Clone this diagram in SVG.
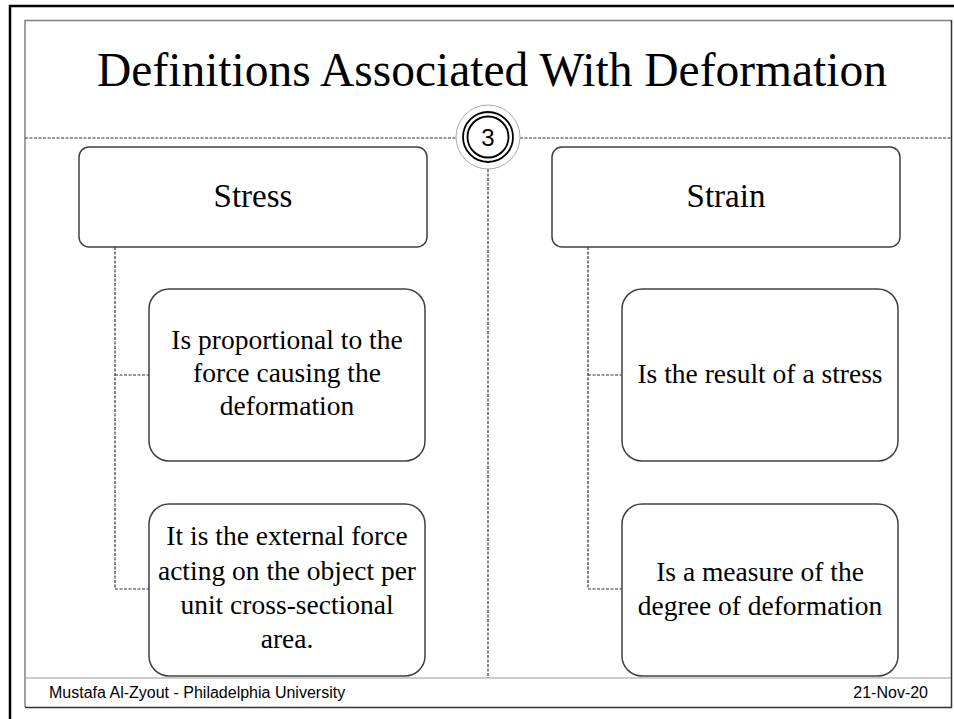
<svg xmlns="http://www.w3.org/2000/svg" width="954" height="719" viewBox="0 0 954 719">
<style>
.box{fill:#fff;stroke:#404040;stroke-width:1.5}
.dash{fill:none;stroke:#333;stroke-width:1.2;stroke-dasharray:3 1.5}
.t{font-family:"Liberation Serif","Times New Roman",serif;fill:#000;text-anchor:middle}
.sub{font-size:27.5px}
.head{font-size:33px}
.foot{font-family:"Liberation Sans",Arial,sans-serif;font-size:16px;fill:#000}
</style>
<rect x="0" y="0" width="954" height="719" fill="#fff"/>
<g id="frame">
<path d="M10 719 V6 H954" fill="none" stroke="#000" stroke-width="2.5"/>
<path d="M25 707 V20.5 H951" fill="none" stroke="#808080" stroke-width="1.5"/>
<path d="M951.5 20 V707.5 H25" fill="none" stroke="#333" stroke-width="1.5"/>
<line x1="25" y1="678" x2="951" y2="678" stroke="#999" stroke-width="1"/>
</g>
<text id="title" class="t" x="492" y="86" font-size="48px" textLength="790" lengthAdjust="spacingAndGlyphs">Definitions Associated With Deformation</text>
<g id="connectors">
<path class="dash" d="M25 138 H456 M520 138 H951"/>
<path class="dash" d="M488 169 V678"/>
<path class="dash" d="M115 247 V589 H149 M115 375 H149"/>
<path class="dash" d="M588 247 V589 H622 M588 375 H622"/>
</g>
<g id="badge">
<circle cx="488" cy="137" r="32" fill="#fff" stroke="#aaa" stroke-width="1"/>
<circle cx="488" cy="137" r="25" fill="#fff" stroke="#000" stroke-width="1.8"/>
<circle cx="488" cy="137" r="20.5" fill="none" stroke="#000" stroke-width="1.8"/>
<text x="488" y="145.5" font-family="'Liberation Sans',Arial,sans-serif" font-size="24px" text-anchor="middle">3</text>
</g>
<g id="stress">
<rect class="box" x="79" y="147" width="348" height="100" rx="10"/>
<text class="t head" x="253" y="207">Stress</text>
</g>
<g id="strain">
<rect class="box" x="552" y="147" width="348" height="100" rx="10"/>
<text class="t head" x="726" y="207">Strain</text>
</g>
<g id="stress-1">
<rect class="box" x="149" y="289" width="276" height="172" rx="20"/>
<text class="t sub" x="287" y="349">Is proportional to the</text>
<text class="t sub" x="287" y="382">force causing the</text>
<text class="t sub" x="287" y="415">deformation</text>
</g>
<g id="stress-2">
<rect class="box" x="149" y="504" width="276" height="172" rx="20"/>
<text class="t sub" x="287" y="545">It is the external force</text>
<text class="t sub" x="287" y="580">acting on the object per</text>
<text class="t sub" x="287" y="614">unit cross-sectional</text>
<text class="t sub" x="287" y="648">area.</text>
</g>
<g id="strain-1">
<rect class="box" x="622" y="289" width="276" height="172" rx="20"/>
<text class="t sub" x="760" y="383">Is the result of a stress</text>
</g>
<g id="strain-2">
<rect class="box" x="622" y="504" width="276" height="172" rx="20"/>
<text class="t sub" x="760" y="581">Is a measure of the</text>
<text class="t sub" x="760" y="615">degree of deformation</text>
</g>
<text class="foot" x="49" y="698">Mustafa Al-Zyout - Philadelphia University</text>
<text class="foot" x="928" y="698" text-anchor="end">21-Nov-20</text>
</svg>
